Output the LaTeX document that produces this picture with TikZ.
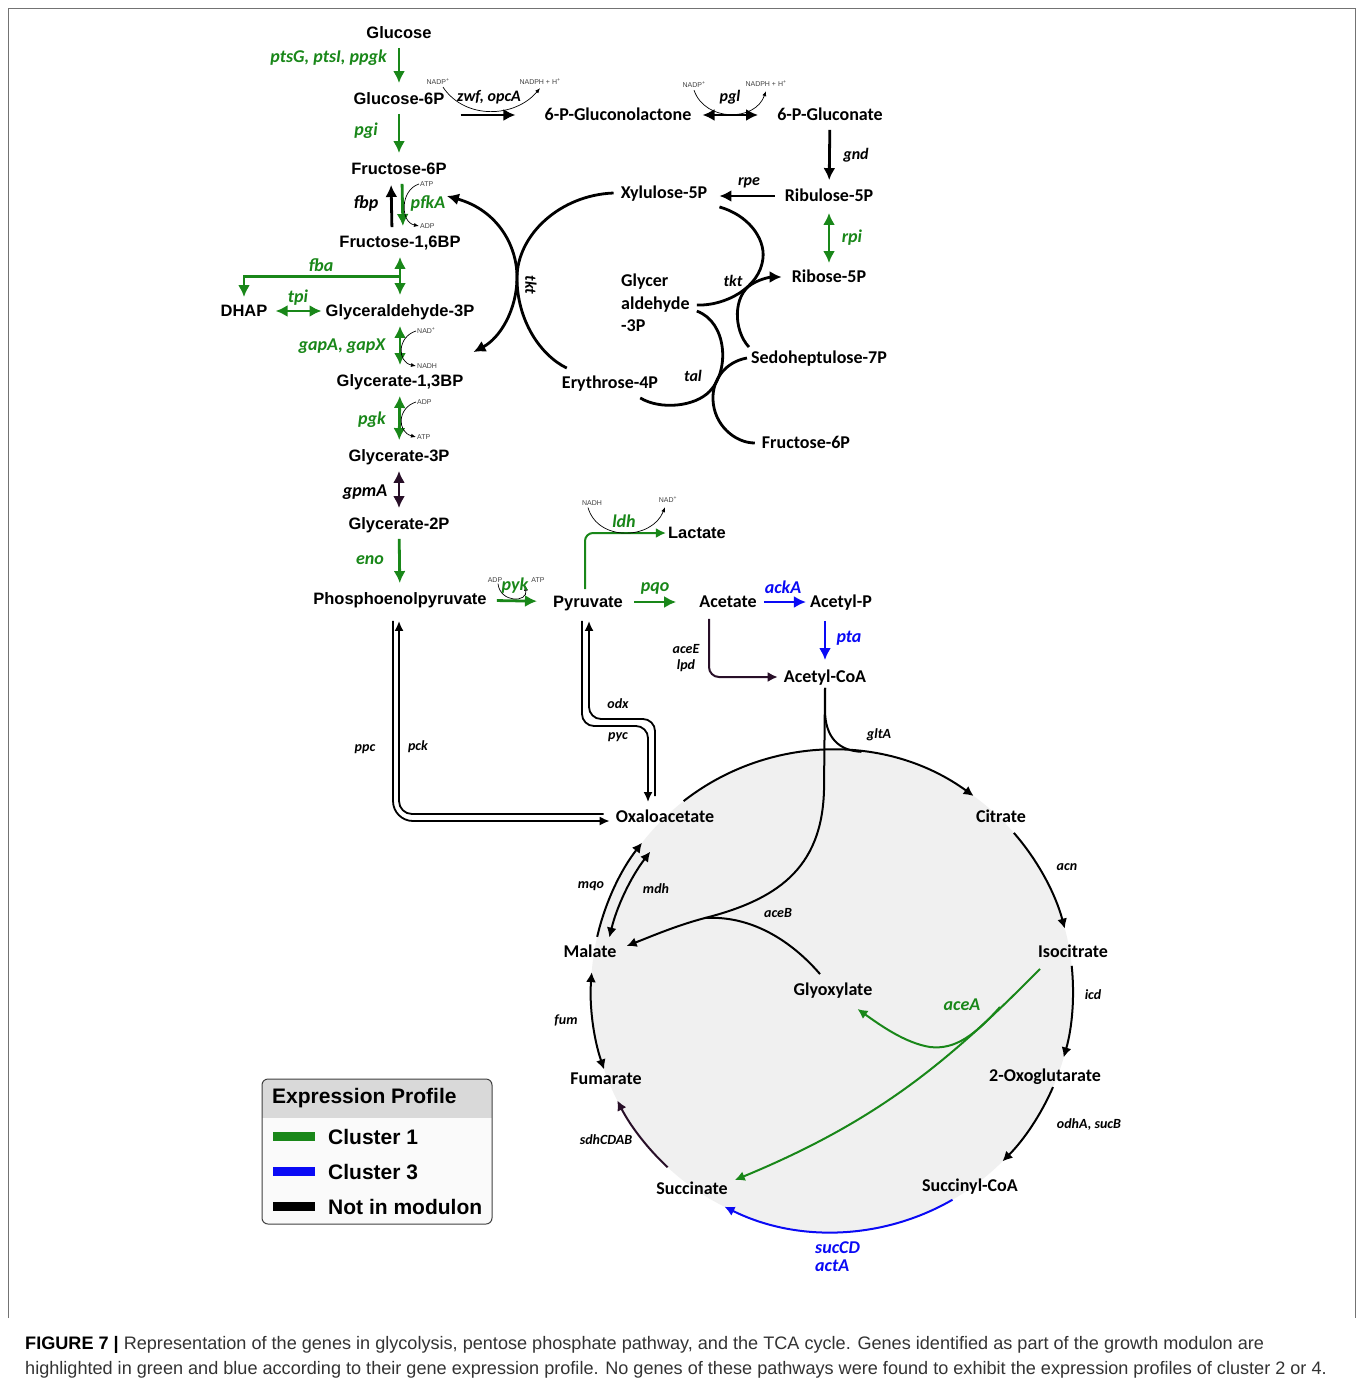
\documentclass[tikz,border=0pt]{standalone}
\usepackage{fontspec}
\setmainfont{Liberation Sans}
\newfontfamily\arialf{Liberation Sans}
\newfontfamily\calf{Carlito}
\newfontfamily\capf{Liberation Sans}
\usepackage{tikz}
\usetikzlibrary{calc}
\usetikzlibrary{positioning}
\usetikzlibrary{arrows.meta}

\definecolor{cgreen}{RGB}{25,135,25}
\definecolor{cblue}{RGB}{10,10,245}
\definecolor{dkline}{RGB}{40,15,40}
\definecolor{tcagray}{RGB}{240,240,240}

\begin{document}
\begin{tikzpicture}[x=1pt,y=-1pt,>={Latex},
  met/.style={font=\arialf\bfseries\fontsize{16.5}{18}\selectfont,inner sep=2pt,text height=14.5pt,text depth=3pt},
  cmet/.style={font=\calf\bfseries\fontsize{18}{20}\selectfont,inner sep=2pt,text height=14.5pt,text depth=3pt},
  gene/.style={font=\calf\bfseries\itshape\fontsize{18}{20}\selectfont,inner sep=0pt},
  mgene/.style={font=\calf\bfseries\itshape\fontsize{16}{18}\selectfont,inner sep=0pt},
  sgene/.style={font=\calf\bfseries\itshape\fontsize{14}{16}\selectfont,inner sep=0pt},
  cof/.style={font=\arialf\fontsize{7}{8}\selectfont,text=black!75,inner sep=0pt},
  legt/.style={font=\arialf\bfseries\fontsize{21}{23}\selectfont,inner sep=0pt,anchor=west},
  mainarr/.style={line width=2.8pt,>={Latex[length=12pt,width=12pt]}},
  cycarr/.style={line width=2pt,>={Latex[length=10pt,width=10pt]}},
  dblarr/.style={line width=1.8pt,>={Latex[length=10pt,width=9pt]}},
  cofarr/.style={line width=0.7pt,>={Latex[length=5pt,width=4pt]}},
  vstep/.style={shorten <=4pt,shorten >=5pt}]

\useasboundingbox (0,0) rectangle (1358,1384);
\fill[white] (0,0) rectangle (1358,1384);
\draw[black!55,line width=1pt] (8,1318) -- (8,8) -- (1355,8) -- (1355,1318);

\coordinate (tca) at (832,991);
\fill[tcagray] (tca) circle (241);

% glycolysis
\node[met] (glc) at (399,33) {Glucose};
\node[met] (g6p) at (399,99) {Glucose-6P};
\node[met] (f6p) at (399,169) {Fructose-6P};
\node[met] (f16bp) at (400,242) {Fructose-1,6BP};
\node[met] (gap) at (400,311) {Glyceraldehyde-3P};
\node[met] (dhap) at (244,311) {DHAP};
\node[met] (bpg) at (400,381) {Glycerate-1,3BP};
\node[met] (pg3) at (399,456) {Glycerate-3P};
\node[met] (pg2) at (399,524) {Glycerate-2P};
\node[met] (pep) at (400,599) {Phosphoenolpyruvate};
\node[met] (pyr) at (588,602) {Pyruvate};
\node[met] (lac) at (697,533) {Lactate};

% pentose phosphate
\node[cmet] (glcl) at (618,115) {6-P-Gluconolactone};
\node[cmet] (glcn) at (830,115) {6-P-Gluconate};
\node[cmet] (ru5p) at (829,196) {Ribulose-5P};
\node[cmet] (xu5p) at (664,193) {Xylulose-5P};
\node[cmet] (r5p) at (829,277) {Ribose-5P};
\node[font=\calf\bfseries\fontsize{18}{22.5}\selectfont,align=left,inner sep=0pt,anchor=north west] (ga3p) at (621,274) {Glycer\\aldehyde\\-3P};
\node[cmet] (e4p) at (610,383) {Erythrose-4P};
\node[cmet] (s7p) at (819,358) {Sedoheptulose-7P};
\node[cmet] (f6pb) at (806,443) {Fructose-6P};
\node[cmet] (ace) at (728,602) {Acetate};
\node[cmet] (acp) at (841,602) {Acetyl-P};
\node[cmet] (accoa) at (825,677) {Acetyl-CoA};

% TCA cycle
\node[cmet] (oaa) at (665,817) {Oxaloacetate};
\node[cmet] (cit) at (1001,817) {Citrate};
\node[cmet] (icit) at (1073,952) {Isocitrate};
\node[cmet] (akg) at (1045,1076) {2-Oxoglutarate};
\node[cmet] (sucoa) at (970,1186) {Succinyl-CoA};
\node[cmet] (suc) at (692,1189) {Succinate};
\node[cmet] (fum) at (606,1079) {Fumarate};
\node[cmet] (mal) at (590,952) {Malate};
\node[cmet] (glx) at (833,990) {Glyoxylate};

% cofactors
\node[cof] (nadpa) at (438,82) {NADP\textsuperscript{+}};
\node[cof] (nadpha) at (540,82) {NADPH + H\textsuperscript{+}};
\node[cof] (nadpb) at (694,85) {NADP\textsuperscript{+}};
\node[cof] (nadphb) at (766,84) {NADPH + H\textsuperscript{+}};
\node[cof,anchor=west] (atpa) at (420,184) {ATP};
\node[cof,anchor=west] (adpa) at (420,226) {ADP};
\node[cof,anchor=west] (nada) at (417,331) {NAD\textsuperscript{+}};
\node[cof,anchor=west] (nadha) at (417,366) {NADH};
\node[cof,anchor=west] (adpb) at (417,402) {ADP};
\node[cof,anchor=west] (atpb) at (417,437) {ATP};
\node[cof] (nadhc) at (592,503) {NADH};
\node[cof] (nadc) at (668,500) {NAD\textsuperscript{+}};
\node[cof] (adpc) at (495,580) {ADP};
\node[cof] (atpc) at (538,580) {ATP};

% glycolysis arrows
\draw[mainarr,cgreen,->,vstep] (glc) -- (g6p);
\draw[mainarr,cgreen,->,vstep] (g6p) -- (f6p);
\draw[mainarr,->,vstep] ($(f16bp.north)+(-8,0)$) -- ($(f6p.south)+(-8,0)$);
\draw[mainarr,cgreen,->,vstep] ($(f6p.south)+(3,0)$) -- ($(f16bp.north)+(3,0)$);
\draw[mainarr,cgreen,<->,vstep] (f16bp) -- (gap);
\draw[mainarr,cgreen,->,shorten >=3pt] ($(f16bp.south)!0.5!(gap.north)$) -| (dhap.north);
\draw[mainarr,cgreen,<->,shorten <=6pt,shorten >=2pt] (dhap) -- (gap);
\draw[mainarr,cgreen,<->,vstep] (gap) -- (bpg);
\draw[mainarr,cgreen,<->,vstep] (bpg) -- (pg3);
\draw[mainarr,dkline,<->,vstep] (pg3) -- (pg2);
\draw[mainarr,cgreen,->,vstep] (pg2) -- (pep);
\draw[mainarr,cgreen,->,shorten <=8pt,shorten >=14pt] (pep) -- (pyr);
\draw[cycarr,cgreen,->,rounded corners=8pt] ($(pyr.north)+(-3,-2)$) |- (lac.west);
\draw[mainarr,cgreen,->,shorten <=9pt,shorten >=21pt] (pyr) -- (ace);
\draw[mainarr,cblue,->,shorten <=5pt,shorten >=2pt] (ace) -- (acp);
\draw[mainarr,cblue,->] ($(acp.south)+(-16,8)$) -- ($(accoa.north)+(0,-6)$);
\draw[cycarr,dkline,->,rounded corners=10pt] ($(ace.south)+(-19,6)$) |- ($(accoa.west)+(-4,0)$);

% anaplerotic double lines
\draw[dblarr,->,rounded corners=20pt] ($(pep.south)+(-7,11)$) |- ($(oaa.west)+(-4,4)$);
\draw[dblarr,->,rounded corners=13pt] ($(oaa.west)+(-10,-3)$) -| ($(pep.south)+(-1,11)$);
\draw[dblarr,->,rounded corners=12pt] ($(pyr.south)+(-6,8)$) |- (648,726) -- ($(oaa.north)+(-17,-4)$);
\draw[dblarr,->,rounded corners=12pt] ($(oaa.north)+(-10,-10)$) |- (589,719) -- ($(pyr.south)+(1,8)$);

% pentose phosphate arrows
\draw[mainarr,->] ($(g6p.east)+(14,16)$) -- ($(glcl.west)+(-27,0)$);
\draw[mainarr,<->,shorten <=9pt,shorten >=17pt] (glcl) -- (glcn);
\draw[mainarr,->,shorten <=4pt,shorten >=5pt] (glcn) -- (ru5p);
\draw[mainarr,->] ($(ru5p.west)+(-8,0)$) -- ($(xu5p.east)+(10,3)$);
\draw[mainarr,cgreen,<->,shorten <=6pt,shorten >=3pt] (ru5p) -- (r5p);
\draw[mainarr,<->] ($(f6p.east)+(-2,27)$) .. controls (497,210) and (517,245) .. (517,277) .. controls (517,310) and (500,338) .. ($(bpg.north east)+(8,-18)$);
\draw[mainarr] ($(xu5p.west)+(-5,0)$) .. controls (560,195) and (517,235) .. (517,278) .. controls (517,320) and (540,355) .. ($(e4p.north west)+(7,-4)$);
\draw[mainarr] ($(xu5p.south east)+(10,3)$) .. controls (748,215) and (765,238) .. (763,258) .. controls (760,288) and (725,306) .. ($(ga3p.east)+(7,2)$);
\draw[mainarr,->] (s7p.north west) .. controls (733,330) and (733,295) .. (752,284) .. controls (762,278) and (772,277) .. ($(r5p.west)+(-8,0)$);
\draw[mainarr] ($(ga3p.east)+(7,8)$) .. controls (727,322) and (730,370) .. (710,391) .. controls (695,407) and (660,410) .. ($(e4p.south east)+(-20,4)$);
\draw[mainarr] ($(s7p.west)+(-2,0)$) .. controls (725,362) and (712,380) .. (713,400) .. controls (714,425) and (735,443) .. ($(f6pb.west)+(-5,0)$);

% cofactor arcs
\draw[cofarr,->] ($(nadpa.south)+(5,2)$) .. controls (465,120) and (515,118) .. ($(nadpha.south)+(0,3)$);
\draw[cofarr,->] ($(nadpb.south)+(0,2)$) .. controls (705,122) and (755,122) .. ($(nadphb.south)+(0,4)$);
\draw[cofarr,->] ($(atpa.west)+(-1,0)$) .. controls (400,190) and (400,222) .. ($(adpa.west)+(-1,0)$);
\draw[cofarr,->] ($(nada.west)+(-1,0)$) .. controls (397,337) and (397,362) .. ($(nadha.west)+(-1,0)$);
\draw[cofarr,->] ($(adpb.west)+(-1,0)$) .. controls (397,408) and (397,432) .. ($(atpb.west)+(-1,0)$);
\draw[cofarr,->] ($(adpc.south)+(3,1)$) .. controls (500,603) and (528,603) .. ($(atpc.south west)+(-6,3)$);
\draw[cofarr,->] ($(nadhc.south)+(-4,2)$) .. controls (598,542) and (652,540) .. ($(nadc.south)+(-3,4)$);

% TCA arcs
\draw[cycarr,->] (tca) ++(-128:241) arc[start angle=-128,end angle=-54,radius=241];
\draw[cycarr] (accoa.south) -- ++(0,22) .. controls +(0,28) and +(-22,-1) .. ($(tca)+(-83:241)$);
\draw[cycarr,->] (tca) ++(-41:241) arc[start angle=-41,end angle=-15,radius=241];
\draw[cycarr,->] (tca) ++(-6:241) arc[start angle=-6,end angle=16,radius=241];
\draw[cycarr,->] (tca) ++(23.5:241) arc[start angle=23.5,end angle=45,radius=241];
\draw[cycarr,cblue,->] (tca) ++(60:241) arc[start angle=60,end angle=116.5,radius=241];
\draw[cycarr,dkline,->] (tca) ++(133:241) arc[start angle=133,end angle=153,radius=241];
\draw[cycarr,<->] (tca) ++(161:241) arc[start angle=161,end angle=184.5,radius=241];
\draw[cycarr,->] (tca) ++(193:241) arc[start angle=193,end angle=218,radius=241];
\draw[cycarr,<->] (tca) ++(193.5:229) arc[start angle=193.5,end angle=217.5,radius=229];

% glyoxylate shunt
\draw[cycarr,->] (accoa.south) -- (824,790) .. controls (822,870) and (775,900) .. (705,918) .. controls (678,925) and (652,936) .. ($(mal.east)+(8,-6)$);
\draw[cycarr] ($(glx.north)+(-13,-5)$) .. controls (795,945) and (755,915) .. (705,918);
\draw[cycarr,cgreen,->] ($(icit.south)+(-33,6)$) .. controls (950,1060) and (880,1120) .. ($(suc.north east)+(5,2)$);
\draw[cycarr,cgreen,->] (1000,1007) .. controls (975,1035) and (955,1050) .. (930,1047) .. controls (905,1043) and (880,1025) .. ($(glx.south east)+(-17,8)$);

% gene labels
\node[gene,text=cgreen,anchor=east] (lpts) at (387,58) {ptsG, ptsI, ppgk};
\node[gene,text=cgreen] (lpgi) at (366,131) {pgi};
\node[gene] (lfbp) at (366,203) {fbp};
\node[gene,text=cgreen] (lpfk) at (428,203) {pfkA};
\node[gene,text=cgreen] (lfba) at (321,265) {fba};
\node[gene,text=cgreen] (ltpi) at (298,298) {tpi};
\node[gene,text=cgreen] (lgap) at (342,346) {gapA, gapX};
\node[gene,text=cgreen] (lpgk) at (372,420) {pgk};
\node[gene] (lgpm) at (365,492) {gpmA};
\node[gene,text=cgreen] (leno) at (370,560) {eno};
\node[gene,text=cgreen] (lpyk) at (515,586) {pyk};
\node[gene,text=cgreen] (lldh) at (624,521) {ldh};
\node[gene,text=cgreen] (lpqo) at (655,588) {pqo};
\node[gene,text=cblue] (lack) at (783,587) {ackA};
\node[gene,text=cblue] (lpta) at (849,638) {pta};
\node[sgene] (lacee) at (686,649) {aceE};
\node[sgene] (llpd) at (686,666) {lpd};
\node[sgene] (lodx) at (618,704) {odx};
\node[sgene] (lpyc) at (618,737) {pyc};
\node[sgene] (lppc) at (365,749) {ppc};
\node[sgene] (lpck) at (418,747) {pck};
\node[mgene] (lzwf) at (489,97) {zwf, opcA};
\node[mgene] (lpgl) at (730,97) {pgl};
\node[mgene] (lgnd) at (856,155) {gnd};
\node[mgene] (lrpe) at (749,183) {rpe};
\node[gene,text=cgreen] (lrpi) at (852,238) {rpi};
\node[mgene,rotate=-90] (ltkta) at (531,285) {tkt};
\node[mgene] (ltktb) at (733,281) {tkt};
\node[mgene] (ltal) at (693,376) {tal};
\node[sgene] (lglt) at (879,735) {gltA};
\node[sgene] (lacn) at (1067,867) {acn};
\node[sgene] (licd) at (1093,995) {icd};
\node[sgene] (lodh) at (1089,1125) {odhA, sucB};
\node[sgene] (lsdh) at (606,1140) {sdhCDAB};
\node[sgene] (lfum) at (566,1020) {fum};
\node[sgene] (lmqo) at (591,886) {mqo};
\node[sgene] (lmdh) at (656,889) {mdh};
\node[sgene] (laceb) at (778,913) {aceB};
\node[gene,text=cgreen] (lacea) at (962,1005) {aceA};
\node[gene,text=cblue,anchor=west] (lsuccd) at (815,1248) {sucCD};
\node[gene,text=cblue,anchor=west] (lacta) at (815,1266) {actA};

% legend
\begin{scope}
\clip[rounded corners=6pt] (262,1079) rectangle (492,1224);
\fill[black!2] (262,1079) rectangle (492,1224);
\fill[black!15] (262,1079) rectangle (492,1118);
\end{scope}
\draw[rounded corners=6pt,black!75,line width=1pt] (262,1079) rectangle (492,1224);
\node[legt] (lgtitle) at (272,1098) {Expression Profile};
\draw[cgreen,line width=9pt] (273,1136) -- (315,1136);
\node[legt] (lgone) at (328,1137) {Cluster 1};
\draw[cblue,line width=9pt] (273,1171) -- (315,1171);
\node[legt] (lgthree) at (328,1172) {Cluster 3};
\draw[black,line width=9pt] (273,1206) -- (315,1206);
\node[legt] (lgnot) at (328,1207) {Not in modulon};

% caption
\node[anchor=base west,inner sep=0pt,font=\capf\fontsize{18.1}{22}\selectfont,text=black!80] (capa) at (25,1349) {\textbf{\color{black}FIGURE 7 |} Representation of the genes in glycolysis, pentose phosphate pathway, and the TCA cycle. Genes identified as part of the growth modulon are};
\node[anchor=base west,inner sep=0pt,font=\capf\fontsize{18.1}{22}\selectfont,text=black!80] (capb) at (25,1374) {highlighted in green and blue according to their gene expression profile. No genes of these pathways were found to exhibit the expression profiles of cluster 2 or 4.};

\end{tikzpicture}
\end{document}
